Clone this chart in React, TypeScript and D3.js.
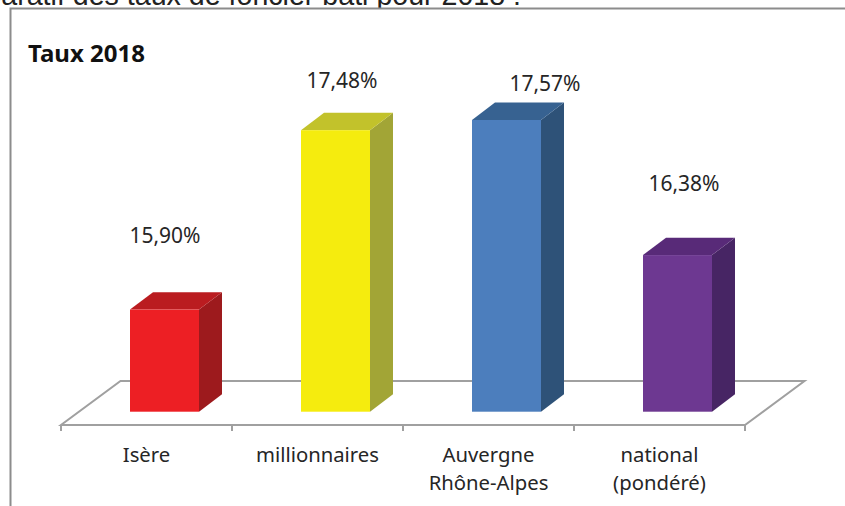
import React from "react";
import * as d3 from "d3";

const categories = ["Isère", "millionnaires", "Auvergne|Rhône-Alpes", "national|(pondéré)"];
const values = [15.9, 17.48, 17.57, 16.38];
const valueLabels = ["15,90%", "17,48%", "17,57%", "16,38%"];
const frontColors = ["#ED1F24", "#F5EC0E", "#4C7EBD", "#6D3891"];
const topColors = ["#BA1C20", "#C2C22B", "#376291", "#582A78"];
const sideColors = ["#9D1A1D", "#A2A536", "#2E5278", "#472564"];
const titleText = "Taux 2018";
const headingText = "Comparatif des taux de foncier bâti pour 2018 :";

const W = 845, H = 506;
const font = "'Noto Sans', 'Open Sans', sans-serif";
const axisGray = "#a0a0a0";
const textColor = "#262626";

const baseY = 411.7;
const floorFrontY = 425;
const floorBackY = 381;
const floorDx = 59.5;
const depthX = 23, depthY = 17.4;

const x = d3.scaleBand<number>().domain(d3.range(categories.length)).range([61, 745]).padding(0);
const y = d3.scaleLinear().domain([15, 18]).range([baseY, baseY - 340.5]);

const barW = 69;
const barShift = 18;
const labelNudge = [[-11, -67], [-5, -42.5], [27, -29], [-5, -64.5]];

export default function App() {
  const [x0, x1] = x.range();
  const floor = d3.line()([
    [x0, floorFrontY], [x1, floorFrontY], [x1 + floorDx, floorBackY], [x0 + floorDx, floorBackY],
  ]) + "Z";
  const ticks = [...x.domain().map((d) => x(d)!), x1];
  return (
    <svg width={W} height={H} style={{ position: "absolute", left: 0, top: 0, display: "block", background: "#fff" }}>
      <text x={-75} y={4.5} fontFamily="'Liberation Sans', Arial, sans-serif" fontSize={28.6} fill="#222">{headingText}</text>
      <rect x={0} y={8} width={W} height={H - 8} fill="#fff" />
      <path d={`M10.5,${H}V8.5H${W}`} fill="none" stroke="#8c8c8c" strokeWidth={2} />
      <text x={28} y={62} fontFamily={font} fontWeight={700} fontSize={24} fill="#111">{titleText}</text>

      <path d={floor} fill="#fff" stroke={axisGray} strokeWidth={2} />
      {ticks.map((t, i) => (
        <line key={i} x1={t} x2={t} y1={floorFrontY} y2={floorFrontY + 6} stroke={axisGray} strokeWidth={2} />
      ))}

      {values.map((v, i) => {
        const left = x(i)! + (x.bandwidth() - barW) / 2 + barShift;
        const right = left + barW;
        const top = y(v);
        const topFace = d3.line()([[left, top], [left + depthX, top - depthY], [right + depthX, top - depthY], [right, top]]) + "Z";
        const sideFace = d3.line()([[right, top], [right + depthX, top - depthY], [right + depthX, baseY - depthY], [right, baseY]]) + "Z";
        return (
          <g key={i}>
            <path d={sideFace} fill={sideColors[i]} />
            <path d={topFace} fill={topColors[i]} />
            <rect x={left} y={top} width={barW} height={baseY - top} fill={frontColors[i]} />
            <text
              x={left + barW / 2 + depthX / 2 + labelNudge[i][0]}
              y={top + labelNudge[i][1]}
              textAnchor="middle"
              fontFamily={font}
              fontSize={21}
              fill={textColor}
            >
              {valueLabels[i]}
            </text>
          </g>
        );
      })}

      {categories.map((c, i) => (
        <text key={c} y={461.5} textAnchor="middle" fontFamily={font} fontSize={20.3} fill={textColor}>
          {c.split("|").map((line, j) => (
            <tspan key={j} x={x(i)! + x.bandwidth() / 2} dy={j === 0 ? 0 : 28}>{line}</tspan>
          ))}
        </text>
      ))}
    </svg>
  );
}
